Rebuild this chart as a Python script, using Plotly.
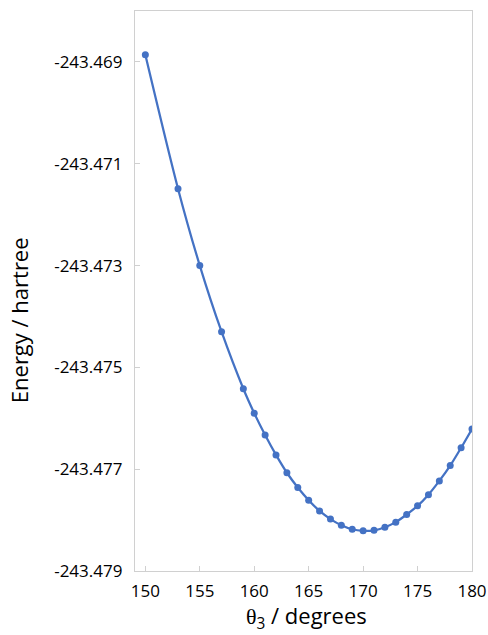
import plotly.graph_objects as go

# Torsion scan: angle theta_3 (degrees) vs. total energy (hartree)
theta3 = [150, 153, 155, 157, 159, 160, 161, 162, 163, 164, 165, 166, 167,
          168, 169, 170, 171, 172, 173, 174, 175, 176, 177, 178, 179, 180]
energy = [-243.46886, -243.47149, -243.47300, -243.47430, -243.47542,
          -243.47590, -243.47633, -243.47672, -243.47707, -243.47736,
          -243.47761, -243.47782, -243.47798, -243.47810, -243.47818,
          -243.47821, -243.47820, -243.47814, -243.47804, -243.47789,
          -243.47772, -243.47750, -243.47723, -243.47693, -243.47658,
          -243.47621]

x_ticks = [150, 155, 160, 165, 170, 175, 180]
y_ticks = [-243.469, -243.471, -243.473, -243.475, -243.477, -243.479]

x_title = "<span style='font-family:Liberation Serif'>θ</span><sub>3</sub> / degrees"
y_title = "Energy / hartree"

blue = "#4472C4"
frame = "#D0D0D0"
font_family = "Open Sans, Liberation Sans, sans-serif"

fig = go.Figure(
    go.Scatter(
        x=theta3,
        y=energy,
        mode="lines+markers",
        line=dict(color=blue, width=2.25, shape="spline", smoothing=0.8),
        marker=dict(color=blue, size=7),
        showlegend=False,
    )
)

fig.update_layout(
    width=488,
    height=635,
    margin=dict(l=135, r=16, t=11, b=64),
    paper_bgcolor="white",
    plot_bgcolor="white",
    font=dict(family=font_family, color="#000000", size=17),
)

axis_style = dict(
    ticks="inside",
    ticklen=5,
    tickcolor=frame,
    showline=True,
    linecolor=frame,
    linewidth=1.3,
    mirror=True,
    showgrid=False,
    zeroline=False,
    automargin=False,
    tickfont=dict(size=17),
)

fig.update_xaxes(
    range=[149.05, 180],
    tickvals=x_ticks,
    ticktext=[str(v) for v in x_ticks],
    ticklabelstandoff=4,
    **axis_style,
)

fig.update_yaxes(
    range=[-243.479, -243.468],
    tickvals=y_ticks,
    ticktext=[f"{v:.3f}" for v in y_ticks],
    ticklabelstandoff=8,
    **axis_style,
)

# Axis titles placed as paper-anchored annotations
fig.add_annotation(
    text=x_title, xref="paper", yref="paper",
    x=0.5095, y=-0.083, xanchor="center", yanchor="middle",
    showarrow=False, font=dict(size=22),
)
fig.add_annotation(
    text=y_title, xref="paper", yref="paper",
    x=-0.344, y=0.448, xanchor="center", yanchor="middle",
    textangle=-90, showarrow=False, font=dict(size=22),
)

fig.write_html("out.html")
